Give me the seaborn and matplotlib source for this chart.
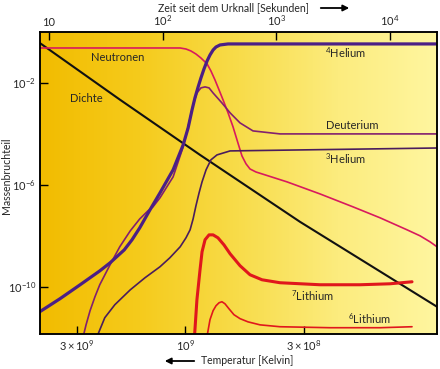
import seaborn as sns
import matplotlib.pyplot as plt
from matplotlib.colors import LinearSegmentedColormap
import numpy as np
import pandas as pd

# Massenbruchteile der leichten Elemente nach dem Urknall
# Zeit in Sekunden, Anteil als Massenbruchteil
neutronen_t = [8.3, 28, 77.6, 143, 161, 178, 197, 218, 247, 267, 290, 315, 341, 378, 418,
               462, 501, 544, 590, 666, 800, 1250, 2443, 4767, 8244, 14260, 18570,
               22750, 26230]
neutronen_m = [0.236, 0.236, 0.236, 0.236, 0.215, 0.18, 0.137, 0.0955, 0.056, 0.0296,
               0.0131, 5.3e-3, 2.2e-3, 6.7e-4, 1.9e-4, 4.4e-5, 1.37e-5, 6.7e-6, 4.2e-6,
               3.2e-6, 2.47e-6, 1.31e-6, 4.4e-7, 1.37e-7, 5.1e-8, 1.72e-8, 1.0e-8,
               5.8e-9, 3.7e-9]

dichte_t = [8.3, 42.2, 214, 1627, 26230]
dichte_m = [0.37, 2.2e-3, 1.5e-5, 3.54e-8, 1.64e-11]

helium4_t = [8.3, 12.5, 18.8, 28, 34.5, 46, 53.9, 63, 77.6, 95, 124, 152, 168, 182, 193,
             206, 218, 232, 247, 262, 279, 296, 321, 378, 26230]
helium4_m = [1.05e-11, 3.4e-11, 1.2e-10, 4.2e-10, 8.7e-10, 2.8e-9, 7.0e-9, 2.06e-8,
             1.05e-7, 4.85e-7, 3.9e-6, 3.7e-5, 1.7e-4, 8.7e-4, 2.58e-3, 7.0e-3, 0.0157,
             0.0354, 0.0729, 0.125, 0.197, 0.258, 0.31, 0.34, 0.34]

deuterium_t = [19.5, 21.2, 23, 25.4, 28, 34.5, 42, 52, 63, 74.5, 82.4, 95, 124, 152, 168,
               186, 201, 218, 237, 257, 279, 334, 394, 482, 627, 1084, 26230]
deuterium_m = [7e-13, 3.2e-12, 1.15e-11, 4.05e-11, 1.2e-10, 7.3e-10, 3.7e-9, 1.57e-8,
               4.6e-8, 9.6e-8, 1.37e-7, 3.1e-7, 2.06e-6, 3.1e-5, 1.9e-4, 1.37e-3,
               4.05e-3, 6.4e-3, 7.0e-3, 6.4e-3, 4.05e-3, 1.64e-3, 6.7e-4, 2.7e-4,
               1.31e-4, 1.0e-4, 1.0e-4]

helium3_t = [25.4, 31, 38, 52, 70, 95, 116, 143, 161, 175, 186, 197, 210, 223, 242, 267,
             302, 394, 26230]
helium3_m = [7e-13, 6.1e-12, 1.97e-11, 7.6e-11, 2.25e-10, 6.1e-10, 1.37e-9, 3.7e-9,
             8.35e-9, 1.72e-8, 4.6e-8, 1.5e-7, 4.85e-7, 1.31e-6, 3.9e-6, 9.6e-6, 1.5e-5,
             2.15e-5, 2.8e-5]

lithium7_t = [190, 201, 214, 223, 237, 257, 279, 308, 348, 394, 482, 590, 753, 1084,
              2443, 5495, 10100, 15780]
lithium7_m = [7e-13, 3.1e-11, 4.6e-10, 2.36e-9, 7.0e-9, 1.09e-8, 1.09e-8, 8.35e-9,
              4.4e-9, 1.97e-9, 6.7e-10, 2.96e-10, 1.88e-10, 1.44e-10, 1.2e-10, 1.2e-10,
              1.31e-10, 1.57e-10]

lithium6_t = [242, 262, 279, 296, 315, 334, 355, 385, 426, 482, 566, 723, 1084, 2992,
              8244, 15780]
lithium6_m = [7e-13, 5.1e-12, 1.15e-11, 1.8e-11, 2.36e-11, 2.58e-11, 2.15e-11, 1.37e-11,
              8.0e-12, 5.6e-12, 4.2e-12, 3.2e-12, 2.7e-12, 2.47e-12, 2.47e-12, 2.7e-12]

zeit_ticks = [10, 100, 1000, 10000]
zeit_labels = ["10", r"$10^2$", r"$10^3$", r"$10^4$"]
temp_ticks = [3e9, 1e9, 3e8]
temp_labels = [r"$3\times10^9$", r"$10^9$", r"$3\times10^8$"]
anteil_ticks = [1e-2, 1e-6, 1e-10]
anteil_labels = [r"$10^{-2}$", r"$10^{-6}$", r"$10^{-10}$"]


def zeit_aus_temperatur(T):
    # strahlungsdominiertes Universum: t ~ T^-2
    return (1.26e10 / np.asarray(T)) ** 2


sns.set_style("ticks")
plt.rcParams["font.family"] = ["Lato", "DejaVu Sans"]
plt.rcParams["mathtext.fontset"] = "custom"
plt.rcParams["mathtext.rm"] = "Lato"
plt.rcParams["mathtext.it"] = "Lato:italic"
plt.rcParams["mathtext.bf"] = "Lato:bold"
plt.rcParams["font.size"] = 8

fig = plt.figure(figsize=(4.4, 3.69), dpi=100)
pos = [40 / 440, 1 - 334 / 369, 397 / 440, 302 / 369]

# Hintergrund mit Farbverlauf
bg = fig.add_axes(pos, zorder=0)
verlauf = LinearSegmentedColormap.from_list(
    "verlauf", ["#f2bc00", "#f5cb1c", "#f8dc4a", "#fcec7e", "#fff6a0"]
)
bg.imshow(np.linspace(0, 1, 256)[None, :], aspect="auto", cmap=verlauf,
          extent=[0, 1, 0, 1])
bg.axis("off")

ax = fig.add_axes(pos, zorder=1)
ax.set_facecolor("none")
ax.set_xscale("log")
ax.set_yscale("log")

kurven = [
    (dichte_t, dichte_m, "#111111", 1.5),
    (neutronen_t, neutronen_m, "#d81a5e", 1.2),
    (helium3_t, helium3_m, "#4a1d5c", 1.2),
    (deuterium_t, deuterium_m, "#82206f", 1.2),
    (helium4_t, helium4_m, "#4b1f86", 2.3),
    (lithium7_t, lithium7_m, "#e0171c", 2.2),
    (lithium6_t, lithium6_m, "#e0171c", 1.2),
]
for t, m, farbe, lw in kurven:
    df = pd.DataFrame({"t": t, "anteil": m})
    sns.lineplot(data=df, x="t", y="anteil", ax=ax, color=farbe, lw=lw,
                 sort=False, estimator=None, solid_joinstyle="round")

ax.set_xlim(8.33, 26200)
ax.set_ylim(1.4e-12, 1.0)
ax.set_xlabel("")
ax.set_ylabel("")

ax.set_xticks(zeit_aus_temperatur(temp_ticks))
ax.set_xticklabels(temp_labels)
ax.set_yticks(anteil_ticks)
ax.set_yticklabels(anteil_labels)
ax.minorticks_off()
ax.tick_params(direction="in", length=6, width=1, pad=3, color="black",
               top=False, right=False)

top = ax.twiny()
top.set_zorder(2)
top.set_xscale("log")
top.set_xlim(ax.get_xlim())
top.set_xticks(zeit_ticks)
top.set_xticklabels(zeit_labels)
top.minorticks_off()
top.tick_params(direction="in", length=6, width=1, pad=3, color="black")

for a in (ax, top):
    for s in a.spines.values():
        s.set_linewidth(1.1)
        s.set_color("black")

# Beschriftungen der Kurven
ax.text(0.196, 0.917, "Neutronen", transform=ax.transAxes, ha="center", va="center")
ax.text(0.116, 0.781, "Dichte", transform=ax.transAxes, ha="center", va="center")
ax.text(0.771, 0.930, r"$^{4}$Helium", transform=ax.transAxes, ha="center", va="center")
ax.text(0.786, 0.692, "Deuterium", transform=ax.transAxes, ha="center", va="center")
ax.text(0.771, 0.579, r"$^{3}$Helium", transform=ax.transAxes, ha="center", va="center")
ax.text(0.685, 0.126, r"$^{7}$Lithium", transform=ax.transAxes, ha="center", va="center")
ax.text(0.829, 0.050, r"$^{6}$Lithium", transform=ax.transAxes, ha="center", va="center")

# Achsentitel mit Pfeilen
fig.text(158 / 440, 1 - 8 / 369, "Zeit seit dem Urknall [Sekunden]", ha="left",
         va="center", fontsize=7.6)
fig.text(201 / 440, 1 - 361 / 369, "Temperatur [Kelvin]", ha="left", va="center",
         fontsize=7.6)
fig.text(7 / 440, 1 - 176 / 369, "Massenbruchteil", rotation=90, ha="center",
         va="center", fontsize=7.6)
ax.annotate("", xy=(352 / 440, 1 - 8 / 369), xytext=(318 / 440, 1 - 8 / 369),
            xycoords="figure fraction", textcoords="figure fraction",
            arrowprops=dict(arrowstyle="-|>", color="black", lw=1.3, mutation_scale=9))
ax.annotate("", xy=(162 / 440, 1 - 361 / 369), xytext=(197 / 440, 1 - 361 / 369),
            xycoords="figure fraction", textcoords="figure fraction",
            arrowprops=dict(arrowstyle="-|>", color="black", lw=1.3, mutation_scale=9))

fig.savefig("out.png", dpi=100)
